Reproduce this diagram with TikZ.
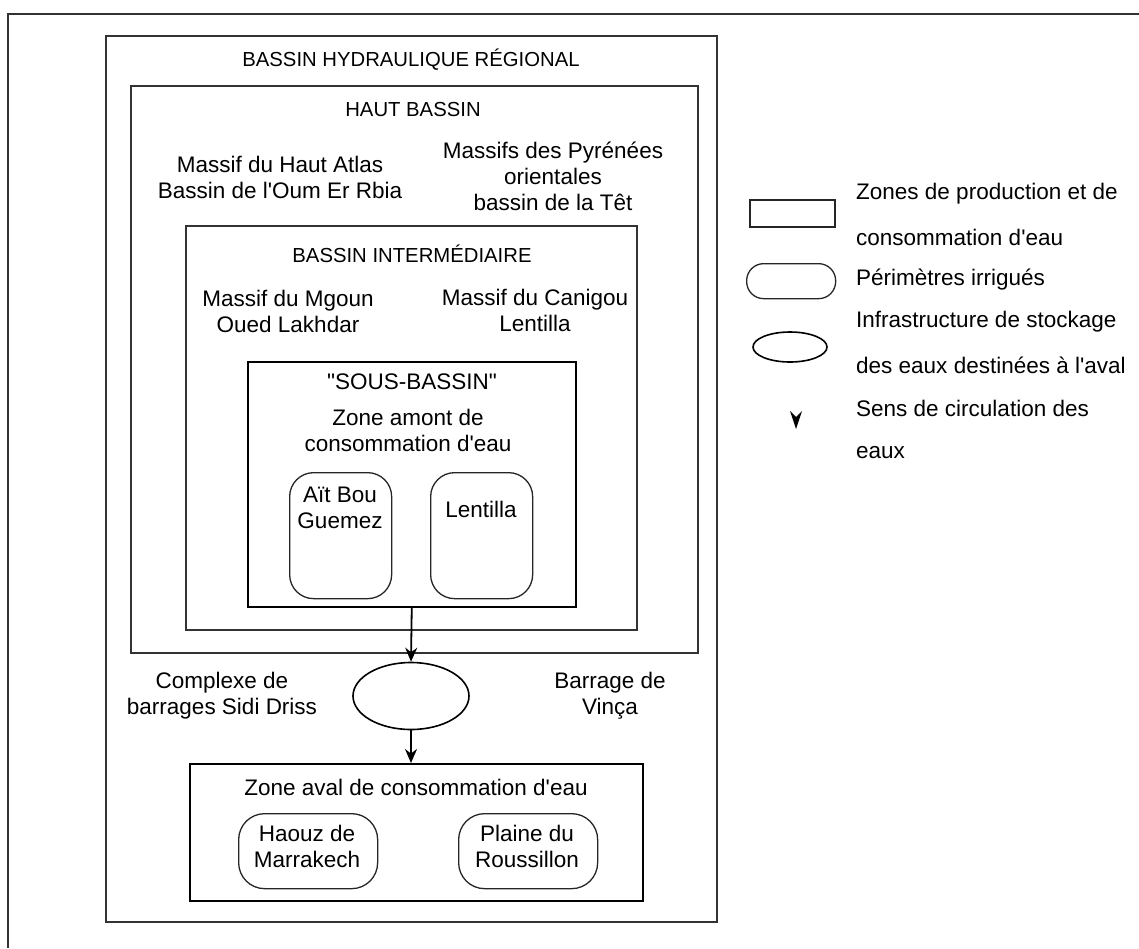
\documentclass[tikz,border=0pt]{standalone}
\usepackage{fontspec}
\setmainfont{Liberation Sans}[Ligatures=TeXOff]
\usetikzlibrary{arrows.meta,shapes.geometric}
\tikzset{
  px/.style={x=1pt,y=-1pt},
  box/.style={draw=black!80, line width=1.5pt, rectangle, anchor=north west, inner sep=0pt},
  rbox/.style={draw=black!85, line width=1.3pt, rectangle, rounded corners=#1, anchor=north west, inner sep=0pt},
  res/.style={draw=black, line width=1.6pt, ellipse, inner sep=0pt},
  txt/.style={font=\fontsize{22.5}{26}\selectfont, align=center, inner sep=0pt},
  head/.style={font=\fontsize{20.3}{24}\selectfont, align=center, inner sep=0pt},
  leg/.style={font=\fontsize{22.5}{26}\selectfont, anchor=west, inner sep=0pt},
  flow/.style={draw=black, line width=1.8pt, -{Stealth[length=14pt,width=12pt]}}
}
\begin{document}
\begin{tikzpicture}[px]
\useasboundingbox (0,0) rectangle (1139,948);
% outer frame (only top and left visible)
\coordinate (fA) at (8,948);
\coordinate (fB) at (8,14);
\coordinate (fC) at (1139,14);
\draw[black!80, line width=1.6pt] (fA) -- (fB) -- (fC);

% nested boxes
\node[box, minimum width=611pt, minimum height=886pt] (reg) at (105,35) {};
\node[box, minimum width=567pt, minimum height=567pt] (haut) at (130,85) {};
\node[box, minimum width=451pt, minimum height=404pt] (inter) at (185,225) {};
\node[box, draw=black, minimum width=328pt, minimum height=245pt] (sous) at (247,361) {};
\node[rbox=24pt, minimum width=102pt, minimum height=126pt] (ait) at (289,472) {};
\node[rbox=24pt, minimum width=102pt, minimum height=126pt] (lent) at (430,472) {};
\node[res, minimum width=116pt, minimum height=67pt] (ell) at (411,696) {};
\node[box, draw=black, minimum width=453pt, minimum height=137pt] (aval) at (189,763) {};
\node[rbox=26pt, minimum width=139pt, minimum height=75pt] (haouz) at (238,813) {};
\node[rbox=26pt, minimum width=139pt, minimum height=75pt] (plaine) at (458,813) {};

% texts
\node[head] (tReg) at (411,60) {BASSIN HYDRAULIQUE RÉGIONAL};
\node[head] (tHaut) at (413,110) {HAUT BASSIN};
\node[txt] (tAtlas) at (280,177) {Massif du Haut Atlas\\Bassin de l'Oum Er Rbia};
\node[txt] (tPyr) at (553,176) {Massifs des Pyrénées\\orientales\\bassin de la Têt};
\node[head] (tInter) at (412,254) {BASSIN INTERMÉDIAIRE};
\node[txt] (tMgoun) at (288,311) {Massif du Mgoun\\Oued Lakhdar};
\node[txt] (tCani) at (535,310) {Massif du Canigou\\Lentilla};
\node[txt] (tSous) at (412,382) {"SOUS-BASSIN"};
\node[txt] (tAmont) at (408,430) {Zone amont de\\consommation d'eau};
\node[txt] (tAit) at (340,508) {Aït Bou\\Guemez};
\node[txt] (tLent) at (481,509) {Lentilla};
\node[txt] (tSidi) at (222,696) {Complexe de\\barrages Sidi Driss};
\node[txt] (tVinca) at (610,696) {Barrage de\\Vinça};
\node[txt] (tAval) at (416,787) {Zone aval de consommation d'eau};
\node[txt] (tHaouz) at (307,846) {Haouz de\\Marrakech};
\node[txt] (tPlaine) at (527,846) {Plaine du\\Roussillon};

% flows
\draw[flow] (sous.south) -- (ell.north);
\draw[flow] (ell.south) -- (ell.south |- aval.north);

% legend
\node[box, draw=black!85, minimum width=85pt, minimum height=27pt] (lgRect) at (749,199) {};
\node[rbox=17pt, minimum width=89pt, minimum height=35pt] (lgRound) at (746,263) {};
\node[res, minimum width=74pt, minimum height=30pt] (lgEll) at (790,347) {};
\fill[black] (790,411) -- (796,429) -- (802,411) -- (796,417) -- cycle;
\node[leg] (l1) at (856,194) {Zones de production et de};
\node[leg] (l2) at (856,237) {consommation d'eau};
\node[leg] (l3) at (856,280) {Périmètres irrigués};
\node[leg] (l4) at (856,322) {Infrastructure de stockage};
\node[leg] (l5) at (856,365) {des eaux destinées à l'aval};
\node[leg] (l6) at (856,408) {Sens de circulation des};
\node[leg] (l7) at (856,453) {eaux};
\end{tikzpicture}
\end{document}
